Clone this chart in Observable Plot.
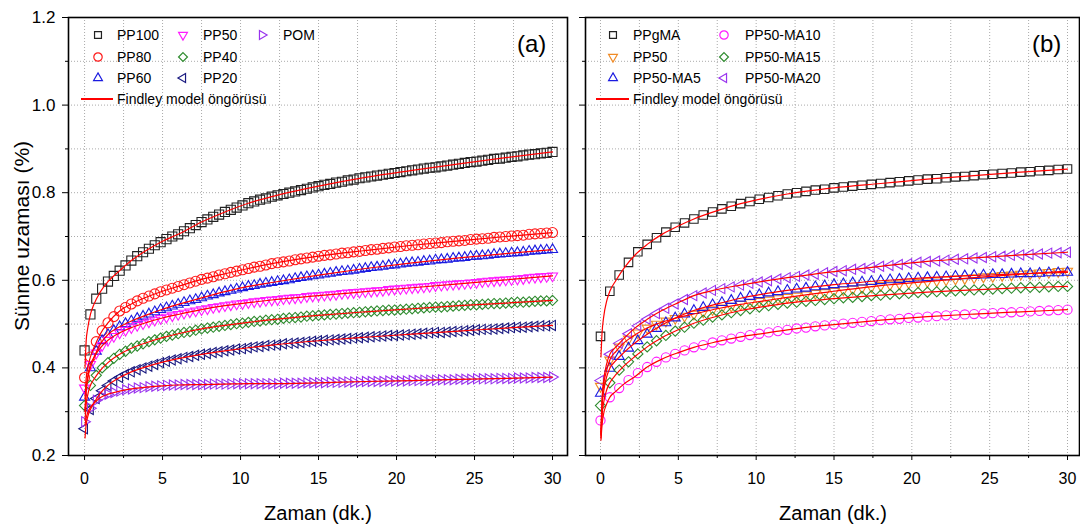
<!DOCTYPE html>
<html><head><meta charset="utf-8">
<script src="https://cdn.jsdelivr.net/npm/d3@7"></script>
<script src="https://cdn.jsdelivr.net/npm/@observablehq/plot@0.6"></script>
<style>
html,body{margin:0;padding:0;background:#fff;}
#wrap{position:relative;width:1080px;height:529px;font-family:"Liberation Sans",Arial,sans-serif;color:#000;overflow:hidden;background:#fff}
.panel{position:absolute;top:0}
.lbl{position:absolute;white-space:nowrap;line-height:1}
.sym{position:absolute}
</style></head><body><div id="wrap"></div>
<script>
// ---------- DATA: panel (a) ----------
const tLeft = [0,0.375,0.75,1.125,1.5,1.875,2.25,2.625,3,3.375,3.75,4.125,4.5,4.875,5.25,5.625,6,6.375,6.75,7.125,7.5,7.875,8.25,8.625,9,9.375,9.75,10.125,10.5,10.875,11.25,11.625,12,12.375,12.75,13.125,13.5,13.875,14.25,14.625,15,15.375,15.75,16.125,16.5,16.875,17.25,17.625,18,18.375,18.75,19.125,19.5,19.875,20.25,20.625,21,21.375,21.75,22.125,22.5,22.875,23.25,23.625,24,24.375,24.75,25.125,25.5,25.875,26.25,26.625,27,27.375,27.75,28.125,28.5,28.875,29.25,29.625,30];
const pp100 = [0.440,0.522,0.558,0.581,0.597,0.610,0.622,0.634,0.645,0.655,0.664,0.672,0.680,0.687,0.694,0.700,0.705,
0.712,0.719,0.726,0.733,0.739,0.745,0.750,0.756,0.761,0.766,0.771,0.776,0.780,0.784,0.787,0.791,
0.794,0.797,0.800,0.803,0.806,0.809,0.812,0.815,0.818,0.820,0.823,0.825,0.828,0.830,0.833,0.835,
0.837,0.839,0.841,0.843,0.845,0.847,0.849,0.851,0.853,0.855,0.857,0.858,0.860,0.862,0.864,0.866,
0.868,0.870,0.871,0.873,0.875,0.877,0.878,0.880,0.882,0.883,0.885,0.887,0.888,0.890,0.891,0.893];
const pp80 = [0.378,0.425,0.460,0.485,0.503,0.517,0.530,0.538,0.546,0.553,0.559,0.564,0.569,0.574,0.578,0.582,0.586,
0.590,0.594,0.598,0.602,0.605,0.608,0.612,0.615,0.618,0.621,0.624,0.627,0.630,0.632,0.635,0.638,
0.640,0.642,0.644,0.647,0.649,0.651,0.653,0.655,0.657,0.658,0.660,0.662,0.663,0.665,0.666,0.668,
0.670,0.671,0.673,0.674,0.676,0.677,0.679,0.680,0.681,0.683,0.684,0.685,0.686,0.688,0.689,0.690,
0.691,0.693,0.694,0.695,0.696,0.698,0.699,0.700,0.701,0.702,0.703,0.705,0.706,0.707,0.708,0.709];
const pp60 = [0.333,0.400,0.438,0.462,0.476,0.485,0.494,0.501,0.507,0.513,0.518,0.523,0.528,0.533,0.537,0.541,0.545,
0.549,0.553,0.556,0.560,0.564,0.567,0.571,0.574,0.577,0.580,0.583,0.586,0.588,0.591,0.593,0.595,
0.597,0.599,0.601,0.604,0.606,0.608,0.610,0.612,0.614,0.616,0.618,0.620,0.621,0.623,0.625,0.627,
0.629,0.630,0.632,0.634,0.635,0.637,0.639,0.640,0.641,0.643,0.644,0.646,0.647,0.648,0.650,0.651,
0.652,0.654,0.655,0.656,0.657,0.659,0.660,0.661,0.662,0.663,0.664,0.666,0.667,0.668,0.669,0.670];
const pp50 = [0.354,0.408,0.434,0.451,0.463,0.472,0.480,0.486,0.492,0.497,0.501,0.505,0.509,0.513,0.516,0.519,0.522,
0.525,0.528,0.530,0.533,0.535,0.538,0.540,0.542,0.544,0.546,0.547,0.549,0.551,0.552,0.554,0.555,
0.556,0.558,0.559,0.560,0.561,0.563,0.564,0.565,0.566,0.567,0.568,0.570,0.571,0.572,0.573,0.574,
0.575,0.576,0.577,0.579,0.580,0.581,0.582,0.583,0.584,0.585,0.586,0.588,0.589,0.590,0.591,0.592,
0.593,0.594,0.595,0.597,0.598,0.599,0.600,0.601,0.602,0.603,0.604,0.606,0.607,0.608,0.609,0.610];
const pp40 = [0.314,0.360,0.383,0.400,0.412,0.422,0.431,0.438,0.445,0.450,0.455,0.460,0.464,0.468,0.472,0.475,0.478,
0.481,0.483,0.486,0.489,0.491,0.493,0.495,0.497,0.499,0.501,0.502,0.504,0.506,0.507,0.509,0.510,
0.511,0.513,0.514,0.515,0.516,0.518,0.519,0.520,0.521,0.522,0.523,0.524,0.525,0.526,0.527,0.528,
0.529,0.530,0.531,0.532,0.532,0.533,0.534,0.535,0.536,0.537,0.538,0.539,0.539,0.540,0.541,0.542,
0.543,0.544,0.544,0.545,0.546,0.547,0.547,0.548,0.549,0.550,0.550,0.551,0.552,0.553,0.553,0.554];
const pp20 = [0.261,0.305,0.330,0.348,0.360,0.370,0.378,0.385,0.391,0.396,0.400,0.404,0.408,0.412,0.415,0.418,0.421,
0.424,0.426,0.429,0.431,0.433,0.435,0.437,0.439,0.441,0.443,0.444,0.446,0.448,0.449,0.451,0.452,
0.453,0.455,0.456,0.457,0.458,0.460,0.461,0.462,0.463,0.464,0.465,0.466,0.467,0.468,0.469,0.470,
0.471,0.472,0.473,0.474,0.474,0.475,0.476,0.477,0.478,0.479,0.480,0.481,0.481,0.482,0.483,0.484,
0.485,0.486,0.487,0.488,0.488,0.489,0.490,0.491,0.492,0.493,0.493,0.494,0.495,0.496,0.496,0.497];
const pom = [0.277,0.308,0.326,0.335,0.340,0.344,0.347,0.350,0.352,0.354,0.355,0.357,0.358,0.359,0.360,0.361,0.361,
0.362,0.362,0.362,0.362,0.362,0.363,0.363,0.363,0.363,0.364,0.364,0.364,0.364,0.364,0.364,0.364,
0.364,0.365,0.365,0.365,0.365,0.366,0.366,0.366,0.366,0.367,0.367,0.367,0.368,0.368,0.368,0.369,
0.369,0.369,0.369,0.370,0.370,0.370,0.370,0.371,0.371,0.372,0.372,0.372,0.373,0.373,0.373,0.374,
0.374,0.374,0.375,0.375,0.375,0.375,0.376,0.376,0.376,0.377,0.377,0.377,0.378,0.378,0.378,0.379];
// Findley model predictions, panel (a)
const tFitL = [0.03,0.1,0.2,0.375,0.6,1,1.5,2.25,3,4,5,6,7.5,9,10.5,12,15,18,21,24,27,30];
const fit100 = [0.400,0.460,0.490,0.522,0.545,0.573,0.597,0.622,0.645,0.669,0.689,0.705,0.733,0.756,0.776,0.791,0.815,0.835,0.851,0.866,0.880,0.893];
const fit80  = [0.330,0.375,0.400,0.425,0.446,0.477,0.503,0.530,0.546,0.562,0.575,0.586,0.602,0.615,0.627,0.638,0.655,0.668,0.680,0.690,0.700,0.709];
const fit60  = [0.300,0.345,0.375,0.400,0.423,0.454,0.476,0.494,0.507,0.521,0.534,0.545,0.560,0.574,0.586,0.595,0.612,0.627,0.640,0.651,0.661,0.670];
const fit50  = [0.300,0.350,0.380,0.408,0.424,0.445,0.463,0.480,0.492,0.504,0.514,0.522,0.533,0.542,0.549,0.555,0.565,0.574,0.583,0.592,0.601,0.610];
const fit40  = [0.280,0.315,0.338,0.360,0.374,0.394,0.412,0.431,0.445,0.458,0.469,0.478,0.489,0.497,0.504,0.510,0.520,0.528,0.535,0.542,0.548,0.554];
const fit20  = [0.240,0.270,0.288,0.305,0.320,0.342,0.360,0.378,0.391,0.403,0.413,0.421,0.431,0.439,0.446,0.452,0.462,0.470,0.477,0.484,0.491,0.497];
const fitPom = [0.270,0.285,0.298,0.310,0.319,0.332,0.340,0.347,0.352,0.356,0.359,0.361,0.362,0.363,0.364,0.364,0.366,0.369,0.371,0.374,0.376,0.379];

// ---------- DATA: panel (b) ----------
const tRight = [0,0.6,1.2,1.8,2.4,3,3.6,4.2,4.8,5.4,6,6.6,7.2,7.8,8.4,9,9.6,10.2,10.8,11.4,12,12.6,13.2,13.8,14.4,15,15.6,16.2,16.8,17.4,18,18.6,19.2,19.8,20.4,21,21.6,22.2,22.8,23.4,24,24.6,25.2,25.8,26.4,27,27.6,28.2,28.8,29.4,30];
const ppgma = [0.472,0.575,0.612,0.641,0.665,0.682,0.697,0.710,0.721,0.731,0.740,0.749,0.756,0.763,0.769,0.775,0.780,0.785,0.789,0.793,0.797,0.800,0.803,0.806,0.808,0.811,0.813,0.815,0.817,0.819,0.821,0.823,0.825,0.827,0.829,0.831,0.832,0.834,0.836,0.837,0.839,0.841,0.842,0.844,0.845,0.847,0.848,0.850,0.851,0.853,0.854];
const pp50b = [0.358,0.418,0.448,0.466,0.480,0.491,0.500,0.507,0.513,0.518,0.523,0.528,0.533,0.537,0.541,0.545,0.549,0.552,0.555,0.558,0.561,0.564,0.567,0.570,0.572,0.575,0.578,0.580,0.583,0.585,0.588,0.590,0.592,0.594,0.595,0.597,0.599,0.601,0.603,0.604,0.606,0.608,0.609,0.611,0.612,0.614,0.615,0.617,0.618,0.620,0.621];
const ma5 = [0.342,0.399,0.426,0.445,0.462,0.477,0.490,0.503,0.514,0.523,0.531,0.538,0.544,0.549,0.554,0.559,0.563,0.567,0.571,0.574,0.577,0.580,0.582,0.585,0.587,0.590,0.592,0.594,0.596,0.597,0.599,0.601,0.602,0.604,0.605,0.606,0.607,0.608,0.609,0.610,0.611,0.612,0.613,0.613,0.614,0.615,0.615,0.616,0.617,0.617,0.618];
const ma10 = [0.280,0.333,0.354,0.372,0.388,0.402,0.414,0.424,0.432,0.440,0.447,0.452,0.458,0.463,0.467,0.471,0.475,0.478,0.481,0.484,0.487,0.490,0.492,0.495,0.497,0.499,0.501,0.503,0.505,0.507,0.509,0.511,0.512,0.514,0.515,0.517,0.518,0.520,0.521,0.522,0.523,0.524,0.525,0.526,0.527,0.528,0.529,0.530,0.531,0.532,0.533];
const ma15 = [0.314,0.366,0.395,0.414,0.432,0.448,0.462,0.474,0.484,0.493,0.502,0.509,0.516,0.521,0.526,0.531,0.535,0.539,0.542,0.545,0.548,0.550,0.552,0.554,0.556,0.558,0.560,0.561,0.563,0.565,0.566,0.568,0.569,0.570,0.572,0.573,0.574,0.575,0.576,0.577,0.578,0.579,0.580,0.581,0.582,0.583,0.584,0.584,0.585,0.586,0.586];
const ma20 = [0.371,0.431,0.456,0.478,0.496,0.511,0.524,0.536,0.546,0.556,0.565,0.571,0.577,0.581,0.585,0.589,0.593,0.596,0.599,0.603,0.606,0.609,0.612,0.614,0.617,0.620,0.622,0.625,0.627,0.630,0.632,0.634,0.636,0.638,0.641,0.643,0.644,0.646,0.648,0.649,0.651,0.652,0.654,0.655,0.657,0.658,0.659,0.660,0.662,0.663,0.664];
// Findley model predictions, panel (b)
const tFitR = [0.03,0.1,0.2,0.4,0.6,1,1.5,2.25,3,4,5,6,7.5,9,10.5,12,15,18,21,24,27,30];
const fitGma  = [0.425,0.480,0.515,0.553,0.575,0.600,0.627,0.659,0.682,0.706,0.724,0.740,0.759,0.775,0.787,0.797,0.811,0.821,0.831,0.839,0.847,0.854];
const fit50b  = [0.250,0.320,0.360,0.395,0.418,0.438,0.457,0.476,0.491,0.505,0.515,0.523,0.535,0.545,0.553,0.561,0.575,0.588,0.597,0.606,0.614,0.621];
const fitMa5  = [0.245,0.310,0.345,0.380,0.399,0.417,0.435,0.458,0.477,0.499,0.517,0.531,0.546,0.559,0.569,0.577,0.590,0.599,0.606,0.611,0.615,0.618];
const fitMa10 = [0.235,0.270,0.295,0.318,0.333,0.347,0.363,0.381,0.402,0.421,0.435,0.447,0.460,0.471,0.479,0.487,0.499,0.509,0.517,0.523,0.528,0.533];
const fitMa15 = [0.240,0.290,0.320,0.350,0.366,0.385,0.404,0.427,0.448,0.470,0.487,0.502,0.518,0.531,0.540,0.548,0.558,0.566,0.573,0.578,0.583,0.586];
const fitMa20 = [0.250,0.330,0.370,0.410,0.431,0.448,0.467,0.492,0.511,0.532,0.549,0.565,0.579,0.589,0.598,0.606,0.620,0.632,0.643,0.651,0.658,0.664];

// ---------- ticks ----------
const xMajor = [0,5,10,15,20,25,30];
const xMinor = [2.5,7.5,12.5,17.5,22.5,27.5];
const xGrid = [0,2.5,5,7.5,10,12.5,15,17.5,20,22.5,25,27.5,30];
const yMajor = [0.2,0.4,0.6,0.8,1.0,1.2];
const yMinor = [0.3,0.5,0.7,0.9,1.1];
const yGrid = [0.3,0.4,0.5,0.6,0.7,0.8,0.9,1.0,1.1];

// ---------- texts ----------
const yTitle = "Sünme uzaması (%)";
const xTitle = "Zaman (dk.)";
const fitLabel = "Findley model öngörüsü";

// ---------- series styling ----------
const TRI = d3.symbolTriangle2;
const leftSeries = [
  {label:"PP100", y:pp100, fit:fit100, symbol:"square2", r:5.8, rot:0, color:"#222222", lr:4.4},
  {label:"PP80",  y:pp80,  fit:fit80,  symbol:"circle",  r:5.0, rot:0, color:"#ff1a1a", lr:4.2},
  {label:"PP60",  y:pp60,  fit:fit60,  symbol:TRI, r:4.8, rot:0, color:"#1a1ae0", lr:4.2},
  {label:"PP50",  y:pp50,  fit:fit50,  symbol:TRI, r:4.8, rot:180, color:"#ff1aff", lr:4.2},
  {label:"PP40",  y:pp40,  fit:fit40,  symbol:"diamond2", r:4.6, rot:0, color:"#2e8b2e", lr:4.0},
  {label:"PP20",  y:pp20,  fit:fit20,  symbol:TRI, r:4.8, rot:-90, color:"#1a1a80", lr:4.2},
  {label:"POM",   y:pom,   fit:fitPom, symbol:TRI, r:4.8, rot:90, color:"#9933ee", lr:4.2}
];
const rightSeries = [
  {label:"PPgMA",     y:ppgma, fit:fitGma,  symbol:"square2", r:5.4, rot:0, color:"#222222", lr:4.4},
  {label:"PP50",      y:pp50b, fit:fit50b,  symbol:TRI, r:4.8, rot:180, color:"#f08a24", lr:4.2},
  {label:"PP50-MA5",  y:ma5,   fit:fitMa5,  symbol:TRI, r:4.8, rot:0, color:"#1a1ae0", lr:4.2},
  {label:"PP50-MA10", y:ma10,  fit:fitMa10, symbol:"circle", r:4.6, rot:0, color:"#ff1aff", lr:4.2},
  {label:"PP50-MA15", y:ma15,  fit:fitMa15, symbol:"diamond2", r:4.6, rot:0, color:"#2e8b2e", lr:4.0},
  {label:"PP50-MA20", y:ma20,  fit:fitMa20, symbol:TRI, r:4.8, rot:-90, color:"#9933ee", lr:4.2}
];
const FIT_COLOR = "#ff0000";

function buildPanel({series, t, tFit, width, marginLeft, marginRight, xDomain, yLabels}) {
  const marks = [
    Plot.gridX(xGrid, {stroke:"#aaaaaa", strokeOpacity:1, strokeWidth:1, strokeDasharray:"1,2"}),
    Plot.gridY(yGrid, {stroke:"#aaaaaa", strokeOpacity:1, strokeWidth:1, strokeDasharray:"1,2"}),
    Plot.axisX(xMajor, {tickSize:5, tickPadding:12, fontSize:16, label:null, tickFormat:d => String(d)}),
    Plot.axisX(xMinor, {tickSize:3, label:null, tickFormat:() => ""}),
    Plot.axisY(yMajor, {tickSize:6, tickPadding:7, fontSize:17, label:null, tickFormat: yLabels ? (d => d.toFixed(1)) : (() => "")}),
    Plot.axisY(yMinor, {tickSize:3, label:null, tickFormat:() => ""})
  ];
  for (const s of series) {
    marks.push(Plot.dot(s.y, {x:t, y:s.y, symbol:s.symbol, r:s.r, rotate:s.rot, stroke:s.color, strokeWidth:1.1, fill:"none"}));
  }
  for (const s of series) {
    marks.push(Plot.line(s.fit, {x:tFit, y:s.fit, stroke:FIT_COLOR, strokeWidth:1.2, curve:"monotone-x"}));
  }
  marks.push(Plot.frame({stroke:"#000", strokeWidth:1.6}));
  return Plot.plot({
    width, height:529,
    marginLeft, marginRight, marginTop:17, marginBottom:74,
    x:{domain:xDomain},
    y:{domain:[0.2,1.2]},
    style:{fontFamily:'"Liberation Sans", Arial, sans-serif', fontSize:"16px", color:"#000", background:"transparent", overflow:"visible"},
    marks
  });
}

const wrap = document.getElementById("wrap");
const left = buildPanel({series:leftSeries, t:tLeft, tFit:tFitL, width:572, marginLeft:68, marginRight:5, xDomain:[-1.03,30.96], yLabels:true});
left.classList.add("panel"); left.style.left = "0px";
wrap.appendChild(left);
const right = buildPanel({series:rightSeries, t:tRight, tFit:tFitR, width:508, marginLeft:13, marginRight:1, xDomain:[-0.963,30.77], yLabels:false});
right.classList.add("panel"); right.style.left = "572px";
wrap.appendChild(right);

function symType(s) {
  if (s === "square2") return d3.symbolSquare2;
  if (s === "circle") return d3.symbolCircle;
  if (s === "diamond2") return d3.symbolDiamond2;
  return s;
}
function addText(txt, x, y, size, anchor) {
  const d = document.createElement("div");
  d.className = "lbl";
  d.textContent = txt;
  d.style.fontSize = size + "px";
  d.style.left = x + "px";
  d.style.top = y + "px";
  if (anchor === "middle") d.style.transform = "translate(-50%,-50%)";
  else d.style.transform = "translate(0,-50%)";
  wrap.appendChild(d);
  return d;
}
function addSymbol(s, cx, cy) {
  const ns = "http://www.w3.org/2000/svg";
  const svg = document.createElementNS(ns, "svg");
  svg.setAttribute("width", 16); svg.setAttribute("height", 16);
  svg.setAttribute("class", "sym");
  svg.style.left = (cx - 8) + "px"; svg.style.top = (cy - 8) + "px";
  const p = document.createElementNS(ns, "path");
  p.setAttribute("d", d3.symbol(symType(s.symbol), Math.PI * s.lr * s.lr)());
  p.setAttribute("transform", `translate(8,8) rotate(${s.rot})`);
  p.setAttribute("fill", "none"); p.setAttribute("stroke", s.color); p.setAttribute("stroke-width", "1.2");
  svg.appendChild(p);
  wrap.appendChild(svg);
}
function addFitKey(x1, x2, y, tx) {
  const d = document.createElement("div");
  d.style.position = "absolute"; d.style.left = x1 + "px"; d.style.top = (y - 0.6) + "px";
  d.style.width = (x2 - x1) + "px"; d.style.height = "1.2px"; d.style.background = FIT_COLOR;
  wrap.appendChild(d);
  addText(fitLabel, tx, y, 14);
}

// legends
const legRowsY = [35, 57, 78];
const leftCols = [{sx:98, tx:117}, {sx:183, tx:203}, {sx:262, tx:283}];
leftSeries.forEach((s, i) => {
  const c = leftCols[Math.floor(i / 3)], yy = legRowsY[i % 3];
  addSymbol(s, c.sx, yy); addText(s.label, c.tx, yy, 14);
});
addFitKey(81, 113, 99, 117);
const rightCols = [{sx:613, tx:633}, {sx:724, tx:745}];
rightSeries.forEach((s, i) => {
  const c = rightCols[Math.floor(i / 3)], yy = legRowsY[i % 3];
  addSymbol(s, c.sx, yy); addText(s.label, c.tx, yy, 14);
});
addFitKey(596, 629, 99, 633);

// panel tags, titles
addText("(a)", 517, 44, 24);
addText("(b)", 1032, 44, 24);
addText(xTitle, 318, 513, 20, "middle");
addText(xTitle, 833, 513, 20, "middle");
const yt = addText(yTitle, 21, 236, 21, "middle");
yt.style.transform = "translate(-50%,-50%) rotate(-90deg)";
</script></body></html>
